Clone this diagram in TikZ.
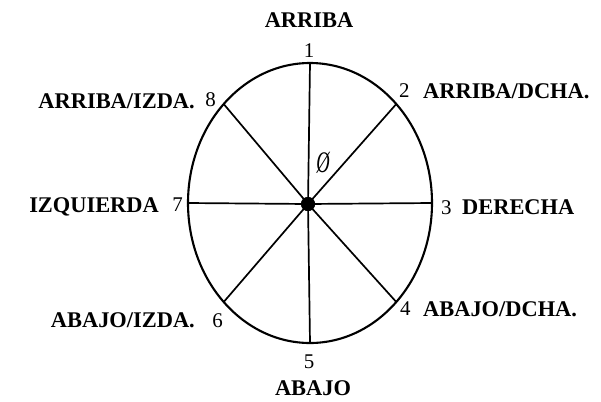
\documentclass[tikz,border=0pt]{standalone}
\usepackage{fontspec}
\setmainfont{Liberation Serif}
\begin{document}
\begin{tikzpicture}[x=1bp,y=-1bp,
  word/.style={inner sep=0pt,font=\fontsize{22.5}{25}\selectfont\bfseries},
  num/.style={inner sep=0pt,font=\fontsize{21}{23}\selectfont},
  spoke/.style={line width=1.7bp},
  rim/.style={line width=2.1bp}]
\useasboundingbox (0,0) rectangle (601,401);
\coordinate (c) at (310,203);
\draw[rim] (c) ellipse [x radius=122, y radius=140];
\coordinate (p1) at (310,63);
\coordinate (p2) at (396.3,104);
\coordinate (p3) at (432,203);
\coordinate (p4) at (396.3,302);
\coordinate (p5) at (310,343);
\coordinate (p6) at (223.7,302);
\coordinate (p7) at (188,203);
\coordinate (p8) at (223.7,104);
\node[circle,fill=black,inner sep=0pt,minimum size=14bp] (dot) at (308,204) {};
\foreach \i in {1,...,8} \draw[spoke] (dot.center) -- (p\i);
\fill (dot) circle (7bp);
\node[inner sep=0pt,xscale=0.62,font=\fontsize{30}{32}\selectfont\itshape] (zero) at (323,163) {Ø};
% numbers
\node[num,anchor=base] (n1) at (309,57) {1};
\node[num,anchor=base west] (n2) at (399,97) {2};
\node[num,anchor=base west] (n3) at (441,214) {3};
\node[num,anchor=base west] (n4) at (400,315) {4};
\node[num,anchor=base] (n5) at (309,368) {5};
\node[num,anchor=base east] (n6) at (223,327) {6};
\node[num,anchor=base east] (n7) at (183,211) {7};
\node[num,anchor=base east] (n8) at (216,106) {8};
% words
\node[word,anchor=base] (w1) at (309,27) {ARRIBA};
\node[word,anchor=base west] (w2) at (423,98) {ARRIBA/DCHA.};
\node[word,anchor=base west] (w3) at (462,214) {DERECHA};
\node[word,anchor=base west] (w4) at (423,316) {ABAJO/DCHA.};
\node[word,anchor=base] (w5) at (313,395) {ABAJO};
\node[word,anchor=base east] (w6) at (195,327) {ABAJO/IZDA.};
\node[word,anchor=base east] (w7) at (159,212) {IZQUIERDA};
\node[word,anchor=base east] (w8) at (195,108) {ARRIBA/IZDA.};
\end{tikzpicture}
\end{document}
